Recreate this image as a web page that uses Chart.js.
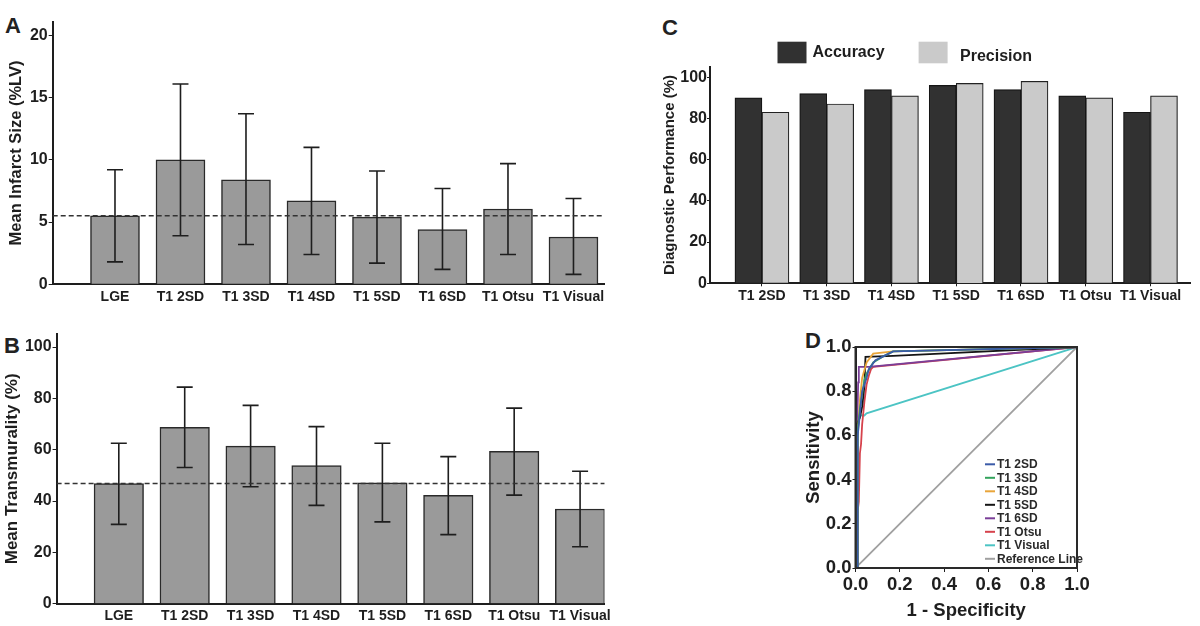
<!DOCTYPE html>
<html>
<head>
<meta charset="utf-8">
<script src="https://cdn.jsdelivr.net/npm/chart.js@4/dist/chart.umd.min.js"></script>
<style>
  body { margin: 0; background: #fff; width: 1200px; height: 626px; position: relative; overflow: hidden; }
  canvas { position: absolute; }
  .tag { position: absolute; font: bold 22px "Liberation Sans", Arial, sans-serif; line-height: 1; color: #222; }
</style>
</head>
<body>
<div class="tag" style="left:5px;top:15px">A</div>
<div class="tag" style="left:4px;top:335px">B</div>
<div class="tag" style="left:662px;top:17px">C</div>
<div class="tag" style="left:805px;top:330px">D</div>

<canvas id="chartA" width="610" height="312" style="left:0;top:0"></canvas>
<canvas id="chartB" width="612" height="316" style="left:0;top:310px"></canvas>
<canvas id="chartC" width="560" height="312" style="left:640px;top:0"></canvas>
<canvas id="chartD" width="420" height="306" style="left:780px;top:320px"></canvas>

<script>
// panels A and B: all methods
const methods = ['LGE', 'T1 2SD', 'T1 3SD', 'T1 4SD', 'T1 5SD', 'T1 6SD', 'T1 Otsu', 'T1 Visual'];

const infarctMean = [5.5, 10.0, 8.4, 6.7, 5.4, 4.4, 6.05, 3.8];
const infarctLow  = [1.8, 3.9, 3.2, 2.4, 1.7, 1.2, 2.4, 0.8];
const infarctHigh = [9.2, 16.1, 13.7, 11.0, 9.1, 7.7, 9.7, 6.9];
const infarctRef = 5.5;
const infarctTicks = [0, 5, 10, 15, 20];

const transMean = [46.8, 68.7, 61.4, 53.8, 47.1, 42.2, 59.4, 36.9];
const transLow  = [30.9, 53.1, 45.6, 38.3, 31.9, 26.9, 42.3, 22.2];
const transHigh = [62.5, 84.4, 77.3, 69.0, 62.5, 57.3, 76.2, 51.6];
const transRef = 46.8;
const transTicks = [0, 20, 40, 60, 80, 100];

// panel C: T1 methods only
const t1Methods = ['T1 2SD', 'T1 3SD', 'T1 4SD', 'T1 5SD', 'T1 6SD', 'T1 Otsu', 'T1 Visual'];
const accuracy  = [90, 92, 94, 96, 94, 91, 83];
const precision = [83, 87, 91, 97, 98, 90, 91];
const perfTicks = [0, 20, 40, 60, 80, 100];

// panel D: ROC curves, [1 - specificity, sensitivity]
const roc2SD = [[0, 0], [0.01, 0], [0.01, 0.6], [0.02, 0.7], [0.03, 0.8], [0.05, 0.86], [0.06, 0.9], [0.09, 0.94], [0.13, 0.96], [0.17, 0.98], [1, 1]];
const roc3SD = [[0, 0], [0.01, 0], [0.01, 0.62], [0.02, 0.72], [0.04, 0.85], [0.05, 0.88], [0.08, 0.93], [0.13, 0.96], [0.17, 0.98], [1, 1]];
const roc4SD = [[0, 0], [0.01, 0], [0.01, 0.6], [0.02, 0.76], [0.03, 0.86], [0.05, 0.93], [0.08, 0.97], [0.17, 0.98], [1, 1]];
const roc5SD = [[0, 0], [0.005, 0], [0.005, 0.65], [0.02, 0.68], [0.03, 0.73], [0.04, 0.82], [0.045, 0.955], [0.17, 0.96], [1, 1]];
const roc6SD = [[0, 0], [0.008, 0], [0.008, 0.65], [0.012, 0.84], [0.015, 0.91], [0.06, 0.91], [1, 1]];
const rocOtsu = [[0, 0], [0.01, 0], [0.01, 0.26], [0.015, 0.3], [0.02, 0.52], [0.025, 0.56], [0.03, 0.65], [0.04, 0.75], [0.05, 0.83], [0.06, 0.87], [0.07, 0.9], [0.08, 0.91], [1, 1]];
const rocVisual = [[0, 0], [0.01, 0.3], [0.01, 0.62], [0.015, 0.69], [0.04, 0.69], [0.05, 0.7], [1, 1]];
const rocReference = [[0, 0], [1, 1]];
const rocTicks = [0, 0.2, 0.4, 0.6, 0.8, 1];

Chart.defaults.font.family = '"Liberation Sans", Arial, sans-serif';
Chart.defaults.font.weight = 'bold';
Chart.defaults.color = '#1e1e1e';
Chart.defaults.animation = false;
Chart.defaults.plugins.legend.display = false;
Chart.defaults.plugins.tooltip.enabled = false;

const axisColor = '#1e1e1e';

function fixedTicks(values) {
  return function (scale) { scale.ticks = values.map(v => ({ value: v })); };
}

function errorBarsPlugin(low, high, ref) {
  return {
    id: 'errorBars',
    afterDatasetsDraw(chart) {
      const { ctx, chartArea } = chart;
      const y = chart.scales.y;
      const meta = chart.getDatasetMeta(0);
      ctx.save();
      ctx.strokeStyle = '#1e1e1e';
      ctx.lineWidth = 1.6;
      meta.data.forEach((bar, i) => {
        const top = y.getPixelForValue(high[i]);
        const bot = y.getPixelForValue(low[i]);
        ctx.beginPath();
        ctx.moveTo(bar.x, top); ctx.lineTo(bar.x, bot);
        ctx.moveTo(bar.x - 8, top); ctx.lineTo(bar.x + 8, top);
        ctx.moveTo(bar.x - 8, bot); ctx.lineTo(bar.x + 8, bot);
        ctx.stroke();
      });
      const ry = y.getPixelForValue(ref);
      ctx.setLineDash([5, 3]);
      ctx.strokeStyle = '#333';
      ctx.lineWidth = 1.5;
      ctx.beginPath();
      ctx.moveTo(chartArea.left, ry);
      ctx.lineTo(chartArea.right, ry);
      ctx.stroke();
      ctx.restore();
    }
  };
}

function meanBarChart(id, means, low, high, ref, ticks, o) {
  return new Chart(document.getElementById(id), {
    type: 'bar',
    data: {
      datasets: [{
        data: means.map((v, i) => ({ x: i + 1, y: v })),
        backgroundColor: '#9a9a9a',
        borderColor: '#2a2a2a',
        borderWidth: 1.5,
        barThickness: o.barWidth
      }]
    },
    options: {
      responsive: false,
      layout: { padding: { top: o.top, right: o.right, left: 0, bottom: 0 } },
      scales: {
        x: {
          type: 'linear',
          min: o.xmin, max: o.xmax,
          offset: false,
          afterFit: s => { s.height = o.xHeight; },
          afterBuildTicks: fixedTicks(methods.map((m, i) => i + 1)),
          grid: { display: false, drawTicks: true, tickLength: 3, offset: false },
          border: { color: axisColor, width: 2 },
          ticks: { autoSkip: false, maxRotation: 0, padding: 1, font: { size: 14 }, callback: v => methods[v - 1] }
        },
        y: {
          min: 0, max: o.ymax,
          afterFit: s => { s.width = o.yWidth; },
          afterBuildTicks: fixedTicks(ticks),
          grid: { drawOnChartArea: false, drawTicks: true, tickLength: 4, color: axisColor },
          border: { color: axisColor, width: 2 },
          ticks: { padding: 1, font: { size: 16 } },
          title: { display: true, text: o.title, font: { size: o.titleSize }, padding: { top: o.titlePad } }
        }
      }
    },
    plugins: [errorBarsPlugin(low, high, ref)]
  });
}

meanBarChart('chartA', infarctMean, infarctLow, infarctHigh, infarctRef, infarctTicks, {
  title: 'Mean Infarct Size (%LV)', titleSize: 16.5, barWidth: 49,
  top: 21.7, right: 6, xHeight: 27.7, yWidth: 52.7, titlePad: 7,
  xmin: 0.049, xmax: 8.466, ymax: 21.1
});

meanBarChart('chartB', transMean, transLow, transHigh, transRef, transTicks, {
  title: 'Mean Transmurality (%)', titleSize: 17, barWidth: 49.5,
  top: 24, right: 7, xHeight: 22.3, yWidth: 56.6, titlePad: 2,
  xmin: 0.056, xmax: 8.37, ymax: 105.1
});

// panel C legend, drawn above the plot
const perfLegend = {
  id: 'perfLegend',
  afterDraw(chart) {
    const ctx = chart.ctx;
    const spots = [{ bx: 137.5, tx: 172.5, ty: 53 }, { bx: 278.6, tx: 320, ty: 57 }];
    ctx.save();
    ctx.font = 'bold 16px "Liberation Sans", Arial, sans-serif';
    ctx.textBaseline = 'middle';
    chart.data.datasets.forEach((ds, i) => {
      const p = spots[i];
      ctx.fillStyle = ds.backgroundColor;
      ctx.fillRect(p.bx, 41.7, 29, 21.6);
      ctx.fillStyle = '#1e1e1e';
      ctx.fillText(ds.label, p.tx, p.ty);
    });
    ctx.restore();
  }
};

new Chart(document.getElementById('chartC'), {
  type: 'bar',
  data: {
    datasets: [
      {
        label: 'Accuracy',
        data: accuracy.map((v, i) => ({ x: i + 1, y: v })),
        backgroundColor: '#313131', borderColor: '#151515', borderWidth: 1.2, barThickness: 27
      },
      {
        label: 'Precision',
        data: precision.map((v, i) => ({ x: i + 1, y: v })),
        backgroundColor: '#cacaca', borderColor: '#222', borderWidth: 1.2, barThickness: 27
      }
    ]
  },
  options: {
    responsive: false,
    layout: { padding: { top: 66.7, right: 10, left: 0, bottom: 0 } },
    scales: {
      x: {
        type: 'linear',
        min: 0.198, max: 7.61,
        offset: false,
        afterFit: s => { s.height = 28.7; },
        afterBuildTicks: fixedTicks(t1Methods.map((m, i) => i + 1)),
        grid: { drawOnChartArea: false, drawTicks: true, tickLength: 3, color: axisColor, offset: false },
        border: { color: axisColor, width: 2 },
        ticks: { autoSkip: false, maxRotation: 0, padding: 1, font: { size: 14 }, callback: v => t1Methods[v - 1] }
      },
      y: {
        min: 0, max: 105.1,
        afterFit: s => { s.width = 70; },
        afterBuildTicks: fixedTicks(perfTicks),
        grid: { drawOnChartArea: false, drawTicks: true, tickLength: 3, color: axisColor },
        border: { color: axisColor, width: 2 },
        ticks: { padding: 0, font: { size: 16 } },
        title: { display: true, text: 'Diagnostic Performance (%)', font: { size: 15 }, padding: { top: 21 } }
      }
    }
  },
  plugins: [perfLegend]
});

// panel D: frame and legend inside the plot
const rocFrame = {
  id: 'rocFrame',
  afterDraw(chart) {
    const { ctx, chartArea: a } = chart;
    ctx.save();
    ctx.strokeStyle = '#2a2a2a';
    ctx.lineWidth = 2;
    ctx.strokeRect(a.left, a.top, a.right - a.left, a.bottom - a.top);
    ctx.font = 'bold 12px "Liberation Sans", Arial, sans-serif';
    ctx.textBaseline = 'middle';
    chart.data.datasets.forEach((ds, i) => {
      const yy = 144.3 + i * 13.5;
      ctx.strokeStyle = ds.borderColor;
      ctx.lineWidth = 2;
      ctx.beginPath();
      ctx.moveTo(205, yy); ctx.lineTo(215, yy);
      ctx.stroke();
      ctx.fillStyle = '#2a2a2a';
      ctx.fillText(ds.label, 217, yy + 0.5);
    });
    ctx.restore();
  }
};

function rocSet(label, pts, color) {
  return {
    label: label,
    data: pts.map(p => ({ x: p[0], y: p[1] })),
    borderColor: color,
    borderWidth: 1.8,
    showLine: true,
    pointRadius: 0,
    tension: 0
  };
}

new Chart(document.getElementById('chartD'), {
  type: 'scatter',
  data: {
    datasets: [
      rocSet('T1 2SD', roc2SD, '#3b5ba8'),
      rocSet('T1 3SD', roc3SD, '#33a35c'),
      rocSet('T1 4SD', roc4SD, '#e9a53a'),
      rocSet('T1 5SD', roc5SD, '#151515'),
      rocSet('T1 6SD', roc6SD, '#7a3e98'),
      rocSet('T1 Otsu', rocOtsu, '#d6424c'),
      rocSet('T1 Visual', rocVisual, '#4cc4c4'),
      rocSet('Reference Line', rocReference, '#a0a0a0')
    ]
  },
  options: {
    responsive: false,
    layout: { padding: { top: 27, right: 123, left: 0, bottom: 0 } },
    scales: {
      x: {
        type: 'linear', min: 0, max: 1,
        afterFit: s => { s.height = 58; },
        afterBuildTicks: fixedTicks(rocTicks),
        grid: { drawOnChartArea: false, drawTicks: true, tickLength: 4, color: axisColor },
        border: { color: axisColor, width: 2 },
        ticks: { padding: 2, font: { size: 18.5 }, callback: v => v.toFixed(1) },
        title: { display: true, text: '1 - Specificity', font: { size: 18.5 }, padding: { bottom: 4 } }
      },
      y: {
        type: 'linear', min: 0, max: 1,
        afterFit: s => { s.width = 75.5; },
        afterBuildTicks: fixedTicks(rocTicks),
        grid: { drawOnChartArea: false, drawTicks: true, tickLength: 3, color: axisColor },
        border: { color: axisColor, width: 2 },
        ticks: { padding: 1, font: { size: 18.5 }, callback: v => v.toFixed(1) },
        title: { display: true, text: 'Sensitivity', font: { size: 18.5 }, padding: { top: 23 } }
      }
    }
  },
  plugins: [rocFrame]
});
</script>
</body>
</html>
